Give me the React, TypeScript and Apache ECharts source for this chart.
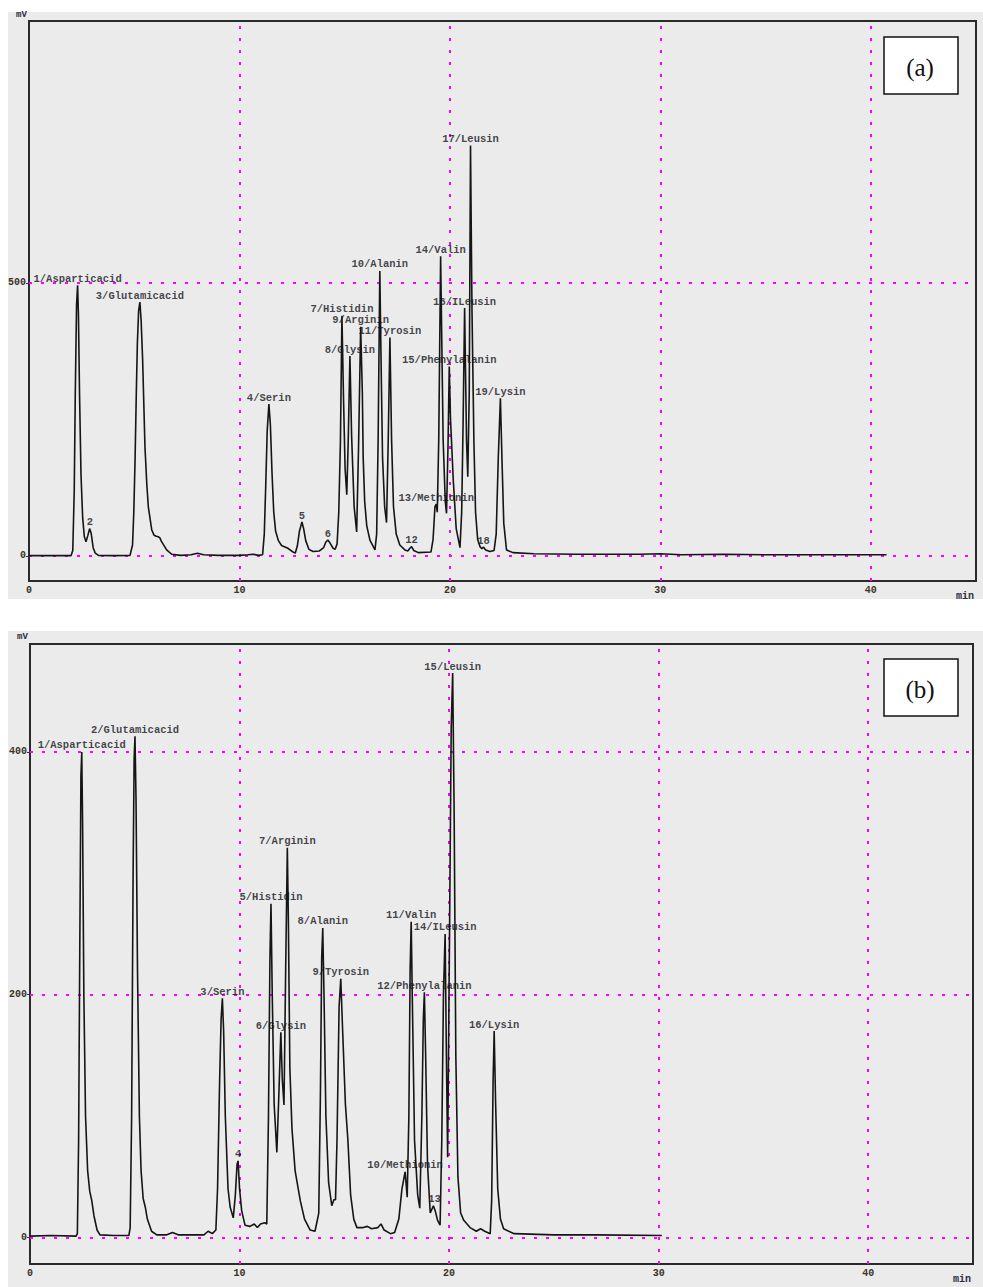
import React, { useEffect, useRef } from "react";
import * as echarts from "echarts";

// ---------- Panel (a): chromatogram trace, [time (min), signal (mV)] ----------
const traceA: [number, number][] = [
  [0, 0.5], [1.0, 0.5], [2.0, 0.5], [2.08, 10], [2.15, 120], [2.2, 300], [2.26, 460], [2.31, 496],
  [2.35, 440], [2.4, 300], [2.47, 150], [2.55, 70], [2.63, 35], [2.71, 26], [2.8, 38], [2.88, 50],
  [2.95, 42], [3.05, 15], [3.15, 5], [3.3, 1], [4.0, 0.5], [4.8, 1], [4.92, 20], [4.98, 80],
  [5.04, 176], [5.1, 300], [5.15, 390], [5.21, 450], [5.27, 465], [5.33, 430], [5.4, 359], [5.51, 200],
  [5.6, 130], [5.67, 90], [5.83, 48], [5.94, 38], [6.05, 36], [6.14, 35], [6.22, 33], [6.3, 26],
  [6.54, 11], [6.78, 3], [7.2, 1], [7.7, 2], [8.0, 5], [8.3, 2], [9.0, 1], [10.0, 1],
  [10.4, 2], [10.65, 3], [10.9, 1], [11.1, 2], [11.18, 40], [11.25, 130], [11.32, 230], [11.4, 278],
  [11.47, 240], [11.55, 150], [11.63, 80], [11.72, 45], [11.85, 28], [12.0, 19], [12.3, 14], [12.55, 7],
  [12.65, 5], [12.75, 18], [12.85, 45], [12.97, 62], [13.05, 50], [13.15, 28], [13.3, 12], [13.5, 8],
  [13.8, 9], [14.0, 15], [14.1, 25], [14.2, 29], [14.3, 24], [14.45, 14], [14.55, 12], [14.64, 22],
  [14.72, 80], [14.8, 212], [14.87, 440], [14.95, 280], [15.02, 160], [15.1, 112], [15.17, 212], [15.25, 366],
  [15.33, 220], [15.45, 90], [15.57, 44], [15.66, 200], [15.76, 420], [15.84, 300], [15.88, 180], [15.95, 100],
  [16.05, 55], [16.2, 29], [16.44, 11], [16.52, 40], [16.59, 212], [16.67, 522], [16.74, 330], [16.8, 180],
  [16.9, 90], [16.99, 61], [17.07, 212], [17.15, 400], [17.23, 212], [17.32, 90], [17.45, 40], [17.62, 20],
  [17.86, 11], [18.0, 9], [18.1, 14], [18.18, 17], [18.28, 10], [18.5, 6], [19.1, 7], [19.2, 30],
  [19.29, 90], [19.35, 95], [19.4, 80], [19.47, 212], [19.56, 549], [19.68, 212], [19.78, 100], [19.84, 78],
  [19.91, 200], [19.97, 347], [20.03, 250], [20.16, 139], [20.3, 50], [20.48, 15], [20.56, 80], [20.63, 250],
  [20.7, 454], [20.79, 212], [20.85, 145], [20.92, 300], [20.98, 752], [21.05, 450], [21.14, 212], [21.22, 80],
  [21.32, 30], [21.43, 17], [21.52, 13], [21.6, 16], [21.7, 11], [21.9, 8], [22.1, 10], [22.2, 40],
  [22.3, 180], [22.4, 289], [22.48, 170], [22.56, 60], [22.69, 11], [23.0, 6], [24.0, 4], [26.0, 3],
  [29.0, 3], [30.0, 4], [31.0, 2], [33.0, 3], [35.0, 2], [38.0, 2], [40.75, 2],
];

const peakNamesA = [
  "1/Asparticacid", "2", "3/Glutamicacid", "4/Serin", "5", "6", "7/Histidin", "8/Glysin", "9/Arginin",
  "10/Alanin", "11/Tyrosin", "12", "13/Methionin", "14/Valin", "15/Phenylalanin", "16/ILeusin",
  "17/Leusin", "18", "19/Lysin",
];
const peakTimesA = [2.31, 2.9, 5.27, 11.4, 12.97, 14.2, 14.87, 15.25, 15.76, 16.67, 17.15, 18.18, 19.35, 19.56, 19.97, 20.7, 20.98, 21.6, 22.4];
const peakValuesA = [496, 50, 465, 278, 62, 29, 440, 366, 420, 522, 400, 17, 95, 549, 347, 454, 752, 16, 289];

// ---------- Panel (b) ----------
const traceB: [number, number][] = [
  [0, 1], [1.0, 1.5], [2.2, 1], [2.26, 3], [2.32, 80], [2.38, 250], [2.43, 380], [2.47, 400],
  [2.51, 340], [2.57, 200], [2.65, 100], [2.75, 55], [2.85, 38], [2.95, 30], [3.05, 18], [3.2, 6],
  [3.34, 2], [4.0, 1.5], [4.72, 1.5], [4.78, 8], [4.85, 100], [4.92, 300], [4.97, 395], [5.01, 413],
  [5.06, 360], [5.13, 220], [5.22, 100], [5.3, 55], [5.4, 32], [5.5, 25], [5.6, 15], [5.8, 5],
  [6.05, 2], [6.5, 2], [6.8, 4], [7.1, 2], [8.3, 2], [8.5, 5], [8.7, 3], [8.87, 6],
  [8.95, 40], [9.05, 130], [9.12, 180], [9.18, 197], [9.24, 170], [9.32, 100], [9.45, 40], [9.55, 25],
  [9.7, 16], [9.8, 35], [9.88, 60], [9.93, 63], [10.0, 40], [10.1, 22], [10.26, 10], [10.5, 9],
  [10.7, 11], [10.85, 8], [11.0, 11], [11.2, 12], [11.3, 11], [11.38, 100], [11.45, 230], [11.5, 275],
  [11.56, 200], [11.65, 110], [11.78, 70], [11.88, 120], [11.97, 169], [12.04, 130], [12.12, 109], [12.2, 220],
  [12.28, 321], [12.33, 260], [12.4, 140], [12.5, 90], [12.65, 55], [12.9, 30], [13.1, 15], [13.37, 6],
  [13.6, 5], [13.78, 20], [13.86, 120], [13.92, 230], [13.97, 255], [14.03, 200], [14.12, 100], [14.25, 45],
  [14.4, 26], [14.5, 31], [14.58, 31], [14.65, 80], [14.75, 190], [14.83, 213], [14.92, 170], [15.05, 110],
  [15.17, 80], [15.3, 35], [15.45, 15], [15.6, 8], [15.9, 8], [16.1, 9], [16.3, 7], [16.6, 8],
  [16.75, 11], [16.9, 6], [17.2, 3], [17.4, 4], [17.6, 15], [17.75, 40], [17.9, 54], [18.0, 33],
  [18.08, 100], [18.14, 220], [18.19, 260], [18.25, 190], [18.35, 80], [18.5, 35], [18.6, 24], [18.7, 100],
  [18.77, 180], [18.82, 202], [18.88, 150], [18.97, 60], [19.1, 20], [19.25, 26], [19.35, 21], [19.45, 14],
  [19.57, 10], [19.65, 80], [19.73, 200], [19.81, 250], [19.87, 150], [19.93, 66], [20.02, 250], [20.1, 420],
  [20.17, 465], [20.24, 350], [20.32, 150], [20.42, 50], [20.55, 20], [20.7, 14], [21.0, 8], [21.3, 5],
  [21.5, 7], [21.7, 5], [21.96, 3], [22.03, 30], [22.1, 130], [22.15, 170], [22.22, 110], [22.32, 40],
  [22.45, 15], [22.6, 7], [23.1, 3], [25.0, 2], [27.0, 2], [30.15, 1.5],
];

const peakNamesB = [
  "1/Asparticacid", "2/Glutamicacid", "3/Serin", "4", "5/Histidin", "6/Glysin", "7/Arginin", "8/Alanin",
  "9/Tyrosin", "10/Methionin", "11/Valin", "12/Phenylalanin", "13", "14/ILeusin", "15/Leusin", "16/Lysin",
];
const peakTimesB = [2.47, 5.01, 9.18, 9.93, 11.5, 11.97, 12.28, 13.97, 14.83, 17.9, 18.19, 18.82, 19.3, 19.81, 20.17, 22.15];
const peakValuesB = [400, 413, 197, 63, 275, 169, 321, 255, 213, 54, 260, 202, 26, 250, 465, 170];

// ---------- axis ticks / grid values ----------
const xTicks = [0, 10, 20, 30, 40];
const yTicksA = [0, 500];
const yTicksB = [0, 200, 400];
const xGridLines = [10, 20, 30, 40];

const MONO = "'Liberation Mono', 'DejaVu Sans Mono', monospace";
const GRAY = "#ebebeb";
const MAGENTA = "#ff00ff";

function buildXAxis(gridIndex: number) {
  return {
    type: "value",
    gridIndex,
    min: 0,
    max: 45,
    axisLine: { show: false },
    axisTick: { show: false },
    splitLine: { show: false },
    axisLabel: {
      customValues: xTicks,
      margin: 4,
      color: "#3a3326",
      fontFamily: MONO,
      fontWeight: "bold",
      fontSize: 10,
    },
  };
}

function buildYAxis(gridIndex: number, min: number, max: number, ticks: number[]) {
  return {
    type: "value",
    gridIndex,
    min,
    max,
    axisLine: { show: false },
    axisTick: { show: true, customValues: ticks, length: 3, lineStyle: { color: "#333", width: 1 } },
    splitLine: { show: false },
    axisLabel: {
      customValues: ticks,
      margin: 3,
      color: "#3a3326",
      fontFamily: MONO,
      fontWeight: "bold",
      fontSize: 10,
    },
  };
}

function gridMarkLine(yLines: number[]) {
  return {
    silent: true,
    symbol: ["none", "none"],
    z: 1,
    label: { show: false },
    lineStyle: { color: MAGENTA, width: 2, type: [3, 9], opacity: 1 },
    emphasis: { disabled: true },
    data: [...yLines.map((v) => ({ yAxis: v })), ...xGridLines.map((v) => ({ xAxis: v }))],
  };
}

function traceSeries(data: [number, number][], idx: number, yLines: number[]) {
  return {
    type: "line",
    xAxisIndex: idx,
    yAxisIndex: idx,
    data,
    showSymbol: false,
    symbol: "none",
    z: 2,
    lineStyle: { color: "#151515", width: 1.6 },
    markLine: gridMarkLine(yLines),
  };
}

function labelSeries(names: string[], times: number[], values: number[], idx: number) {
  return {
    type: "scatter",
    xAxisIndex: idx,
    yAxisIndex: idx,
    symbolSize: 0,
    z: 3,
    silent: true,
    data: names.map((n, i) => ({ name: n, value: [times[i], values[i]] })),
    label: {
      show: true,
      position: "top",
      distance: 1,
      formatter: (p: any) => p.name,
      color: "#15151c",
      fontFamily: MONO,
      fontWeight: "bold",
      fontSize: 10.5,
    },
  };
}

function tagBox(y: number, text: string) {
  return [
    {
      type: "rect",
      z: 100,
      shape: { x: 884, y, width: 74, height: 57 },
      style: { fill: "#ffffff", stroke: "#111111", lineWidth: 1.5 },
    },
    {
      type: "text",
      z: 101,
      x: 920,
      y: y + 30,
      style: {
        text,
        fill: "#111111",
        font: "25px 'Liberation Serif', 'DejaVu Serif', serif",
        align: "center",
        verticalAlign: "middle",
      },
    },
  ];
}

export default function App() {
  const ref = useRef<HTMLDivElement>(null);

  useEffect(() => {
    if (!ref.current) return;
    const chart = echarts.init(ref.current, null, { renderer: "svg" });
    const option: any = {
      animation: false,
      backgroundColor: "#ffffff",
      grid: [
        { left: 29, top: 21, width: 947, height: 560, show: true, backgroundColor: GRAY, borderColor: "#2a2a2a", borderWidth: 2 },
        { left: 30, top: 644, width: 943, height: 620, show: true, backgroundColor: GRAY, borderColor: "#2a2a2a", borderWidth: 2 },
      ],
      xAxis: [buildXAxis(0), buildXAxis(1)],
      yAxis: [buildYAxis(0, -46, 980, yTicksA), buildYAxis(1, -22, 489, yTicksB)],
      series: [
        traceSeries(traceA, 0, yTicksA),
        labelSeries(peakNamesA, peakTimesA, peakValuesA, 0),
        traceSeries(traceB, 1, yTicksB),
        labelSeries(peakNamesB, peakTimesB, peakValuesB, 1),
      ],
      graphic: [
        { type: "rect", z: -10, silent: true, shape: { x: 8, y: 12, width: 975, height: 587 }, style: { fill: GRAY } },
        { type: "rect", z: -10, silent: true, shape: { x: 8, y: 631, width: 975, height: 656 }, style: { fill: GRAY } },
        { type: "text", z: 5, x: 16, y: 10, style: { text: "mV", fill: "#2a2a40", font: `bold 9px ${MONO}` } },
        { type: "text", z: 5, x: 17, y: 632, style: { text: "mV", fill: "#2a2a40", font: `bold 9px ${MONO}` } },
        { type: "text", z: 5, x: 956, y: 591, style: { text: "min", fill: "#2a2a40", font: `bold 10px ${MONO}` } },
        { type: "text", z: 5, x: 953, y: 1274, style: { text: "min", fill: "#2a2a40", font: `bold 10px ${MONO}` } },
        ...tagBox(37, "(a)"),
        ...tagBox(659, "(b)"),
      ],
    };
    chart.setOption(option);
    return () => chart.dispose();
  }, []);

  return (
    <div
      ref={ref}
      style={{ position: "absolute", left: 0, top: 0, width: 983, height: 1287 }}
    />
  );
}
